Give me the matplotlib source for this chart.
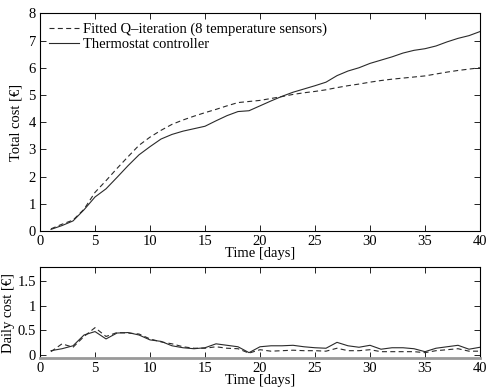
import matplotlib
matplotlib.use('Agg')
import matplotlib.pyplot as plt

##### DATA #####

days = list(range(1, 41))

# cumulative cost [EUR]
fqi_total = [0.08, 0.25, 0.40, 0.80, 1.42, 1.85, 2.30, 2.73, 3.15, 3.45,
             3.70, 3.92, 4.08, 4.22, 4.35, 4.47, 4.60, 4.72, 4.76, 4.80,
             4.87, 4.94, 5.02, 5.08, 5.13, 5.19, 5.27, 5.34, 5.40, 5.47,
             5.53, 5.58, 5.62, 5.66, 5.70, 5.77, 5.84, 5.90, 5.95, 6.00]
thermo_total = [0.06, 0.20, 0.37, 0.78, 1.25, 1.55, 1.97, 2.40, 2.80, 3.10,
                3.38, 3.55, 3.67, 3.76, 3.85, 4.05, 4.24, 4.39, 4.42, 4.60,
                4.78, 4.95, 5.10, 5.22, 5.34, 5.47, 5.71, 5.88, 6.00, 6.16,
                6.28, 6.40, 6.54, 6.64, 6.70, 6.80, 6.95, 7.08, 7.18, 7.33]

# daily cost [EUR]
fqi_daily = [0.06, 0.22, 0.15, 0.37, 0.55, 0.37, 0.45, 0.44, 0.42, 0.32,
             0.26, 0.22, 0.16, 0.13, 0.13, 0.16, 0.13, 0.12, 0.03, 0.10,
             0.07, 0.08, 0.09, 0.08, 0.08, 0.07, 0.13, 0.08, 0.08, 0.10,
             0.06, 0.06, 0.06, 0.06, 0.04, 0.08, 0.10, 0.12, 0.07, 0.07]
thermo_daily = [0.08, 0.12, 0.18, 0.40, 0.47, 0.32, 0.44, 0.45, 0.40, 0.30,
                0.27, 0.18, 0.14, 0.12, 0.14, 0.22, 0.19, 0.16, 0.04, 0.16,
                0.18, 0.18, 0.19, 0.16, 0.14, 0.13, 0.25, 0.18, 0.15, 0.19,
                0.11, 0.14, 0.14, 0.12, 0.06, 0.13, 0.16, 0.19, 0.11, 0.15]

labels = ['Fitted Q\u2013iteration (8 temperature sensors)', 'Thermostat controller']

##### PLOT #####

plt.rcParams['font.family'] = 'Liberation Serif'
plt.rcParams['font.size'] = 10.5

fig = plt.figure(figsize=(4.91, 3.92), dpi=100)
ax1 = fig.add_axes([0.0815, 0.4107, 0.8961, 0.5553])
ax2 = fig.add_axes([0.0815, 0.086, 0.8961, 0.232])

dash = (4.5, 3.0)
col = '#2a2a2a'

ax1.plot(days, fqi_total, color=col, lw=0.8, linestyle='--', dashes=dash, label=labels[0])
ax1.plot(days, thermo_total, color=col, lw=0.8, label=labels[1])
ax1.set_xlim(0, 40)
ax1.set_ylim(0, 8)
ax1.set_xticks(range(0, 41, 5))
ax1.set_yticks(range(0, 9))
ax1.set_xlabel('Time [days]', labelpad=-1)
ax1.set_ylabel('Total cost [\u20ac]', labelpad=4)
ax1.legend(loc='upper left', frameon=False, handlelength=2.0, handletextpad=0.3,
           labelspacing=0.1, borderaxespad=0.45, borderpad=0.2)

ax2.plot(days, fqi_daily, color=col, lw=0.8, linestyle='--', dashes=dash)
ax2.plot(days, thermo_daily, color=col, lw=0.8)
ax2.set_xlim(0, 40)
ax2.set_ylim(-0.075, 1.78)
ax2.set_xticks(range(0, 41, 5))
ax2.set_yticks([0, 0.5, 1, 1.5])
ax2.set_yticklabels(['0', '0.5', '1', '1.5'])
ax2.set_xlabel('Time [days]', labelpad=-1)
ax2.set_ylabel('Daily cost [\u20ac]', labelpad=2)
ax2.spines['bottom'].set_color('#999999')
ax2.spines['bottom'].set_linewidth(2)

for ax in (ax1, ax2):
    ax.tick_params(direction='in', top=True, right=True, length=4, width=0.6, pad=3)
    for s in ('top', 'left', 'right'):
        ax.spines[s].set_linewidth(0.8)
ax1.spines['bottom'].set_linewidth(0.8)

fig.savefig('out.png', dpi=100)
